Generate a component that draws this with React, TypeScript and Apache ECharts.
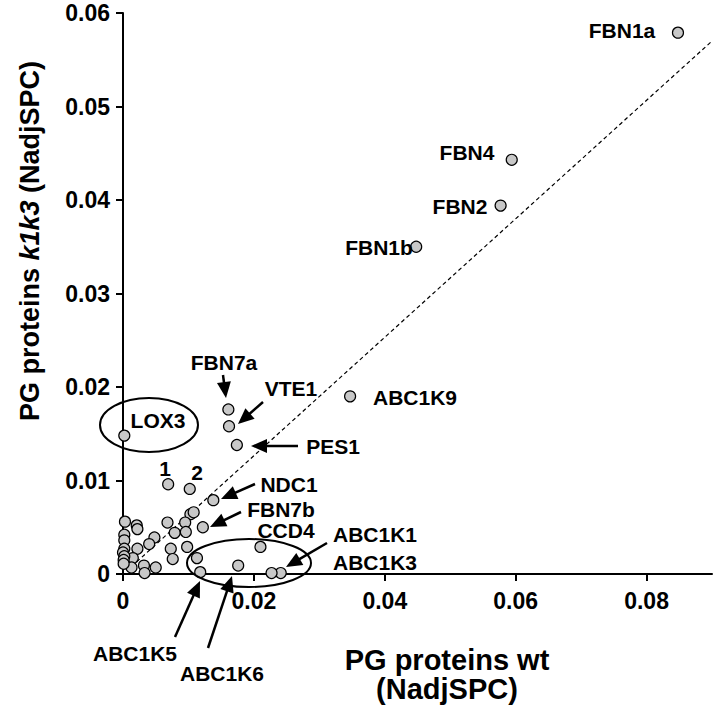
import React, { useEffect, useRef } from "react";
import * as echarts from "echarts";

// ---- data (NadjSPC) ----
const labeledNames = ["FBN1a", "FBN4", "FBN2", "FBN1b", "ABC1K9", "FBN7a", "VTE1", "PES1", "LOX3", "1", "2", "NDC1", "FBN7b", "CCD4", "ABC1K1", "ABC1K3", "ABC1K5", "ABC1K6"];
const labeledWt = [0.0848, 0.0594, 0.0577, 0.0448, 0.0347, 0.0161, 0.0162, 0.0174, 0.0002, 0.0069, 0.0102, 0.0138, 0.0122, 0.021, 0.0241, 0.0227, 0.0118, 0.0176];
const labeledK1k3 = [0.0579, 0.0443, 0.0394, 0.035, 0.019, 0.0176, 0.0158, 0.0138, 0.0148, 0.0096, 0.0091, 0.0079, 0.005, 0.0029, 0.0001, 0.0001, 0.0002, 0.0009];

const otherWt = [0.0103, 0.0108, 0.0095, 0.0068, 0.0079, 0.0096, 0.0098, 0.0073, 0.0076, 0.0113, 0.0048, 0.004, 0.0021, 0.0022, 0.0003, 0.0002, 0.0002, 0.0022, 0.0015, 0.0013, 0.0032, 0.005, 0.0033, 0.0002, 0.0, 0.0002, 0.0001, 0.0001];
const otherK1k3 = [0.0064, 0.0066, 0.0055, 0.0055, 0.0044, 0.0045, 0.0029, 0.0027, 0.0016, 0.0017, 0.0039, 0.0032, 0.0052, 0.0048, 0.0056, 0.0042, 0.0036, 0.0027, 0.0017, 0.0007, 0.0009, 0.0007, 0.0001, 0.0027, 0.0023, 0.0019, 0.0015, 0.0011];

const trendWt = [0.0013, 0.09];
const trendK1k3 = [0.0008, 0.057];

const xTicks = [0, 0.02, 0.04, 0.06, 0.08];

// ---- annotation layout (pixels) ----
const FONT = "'Liberation Sans', Arial, sans-serif";
const labelLayout: [string, number, number, string][] = [
  ["FBN1a", 622, 30, "center"],
  ["FBN4", 467, 152, "center"],
  ["FBN2", 460, 206, "center"],
  ["FBN1b", 379, 247, "center"],
  ["ABC1K9", 415, 397, "center"],
  ["FBN7a", 224, 362, "center"],
  ["VTE1", 291, 388, "center"],
  ["PES1", 333, 446, "center"],
  ["LOX3", 158, 420, "center"],
  ["1", 165, 468, "center"],
  ["2", 197, 472, "center"],
  ["NDC1", 289, 484, "center"],
  ["FBN7b", 281, 509, "center"],
  ["CCD4", 286, 530, "center"],
  ["ABC1K1", 333, 534, "left"],
  ["ABC1K3", 333, 562, "left"],
  ["ABC1K5", 135, 653, "center"],
  ["ABC1K6", 222, 673, "center"],
];
const arrowLayout: [number, number, number, number][] = [
  [223, 375, 226, 398],
  [263, 402, 238, 424],
  [298, 446, 251, 446],
  [255, 484, 221, 499],
  [241, 512, 210, 527],
  [327, 543, 286, 567],
  [175, 637, 200, 581],
  [208, 648, 232, 576],
];
const ellipseLayout: [number, number, number, number][] = [
  [149, 425, 49, 27],
  [249, 563, 62, 24],
];

function arrow(x1: number, y1: number, x2: number, y2: number) {
  const dx = x2 - x1, dy = y2 - y1;
  const len = Math.sqrt(dx * dx + dy * dy);
  const ux = dx / len, uy = dy / len;
  const L = 16, W = 7;
  const bx = x2 - ux * L, by = y2 - uy * L;
  return [
    { type: "line", shape: { x1, y1, x2: bx + ux * 2, y2: by + uy * 2 }, style: { stroke: "#000", lineWidth: 2.5 }, z: 10 },
    {
      type: "polygon",
      shape: { points: [[x2, y2], [bx - uy * W, by + ux * W], [bx + uy * W, by - ux * W]] },
      style: { fill: "#000", stroke: "none" },
      z: 10,
    },
  ];
}

export default function App() {
  const ref = useRef<HTMLDivElement>(null);
  useEffect(() => {
    document.body.style.margin = "0";
    const chart = echarts.init(ref.current!, null, { renderer: "svg" });
    const scatterData = [
      ...labeledWt.map((x, i) => ({ name: labeledNames[i], value: [x, labeledK1k3[i]] })),
      ...otherWt.map((x, i) => ({ name: "", value: [x, otherK1k3[i]] })),
    ];
    const graphic: any[] = [];
    labelLayout.forEach(([t, x, y, a]) =>
      graphic.push({
        type: "text", x, y, z: 10,
        style: { text: t, fontSize: 21, lineHeight: 20, fontWeight: "bold", fontFamily: FONT, fill: "#000", align: a, verticalAlign: "middle" },
      })
    );
    arrowLayout.forEach((a) => graphic.push(...arrow(a[0], a[1], a[2], a[3])));
    ellipseLayout.forEach(([cx, cy, rx, ry]) =>
      graphic.push({ type: "ellipse", shape: { cx, cy, rx, ry }, style: { fill: "none", stroke: "#000", lineWidth: 2 }, z: 9 })
    );
    graphic.push({
      type: "text", x: 447, y: 660,
      style: { text: "PG proteins wt", fontSize: 29, fontWeight: "bold", fontFamily: FONT, fill: "#000", align: "center", verticalAlign: "middle" },
    });
    graphic.push({
      type: "text", x: 447, y: 689,
      style: { text: "(NadjSPC)", fontSize: 29, lineHeight: 30, fontWeight: "bold", fontFamily: FONT, fill: "#000", align: "center", verticalAlign: "middle" },
    });
    graphic.push({
      type: "text", x: 30, y: 241, rotation: Math.PI / 2,
      style: {
        text: "{a|PG proteins }{b|k1k3}{a| (NadjSPC)}",
        align: "center", verticalAlign: "middle",
        rich: {
          a: { fontSize: 27, fontWeight: "bold", fontFamily: FONT, fill: "#000" },
          b: { fontSize: 27, fontWeight: "bold", fontStyle: "italic", fontFamily: FONT, fill: "#000" },
        },
      },
    });

    chart.setOption({
      animation: false,
      grid: { left: 123, right: 5, top: 13, bottom: 132, containLabel: false },
      xAxis: {
        type: "value", min: 0, max: 0.09,
        axisLine: { lineStyle: { color: "#000", width: 2 } },
        axisTick: { show: true, length: 7, lineStyle: { color: "#000", width: 2 }, customValues: xTicks },
        axisLabel: { customValues: xTicks, color: "#000", fontSize: 23, fontWeight: "bold", fontFamily: FONT, margin: 15 },
        splitLine: { show: false },
      },
      yAxis: {
        type: "value", min: 0, max: 0.06, interval: 0.01,
        axisLine: { show: true, lineStyle: { color: "#000", width: 2 } },
        axisTick: { show: true, length: 7, lineStyle: { color: "#000", width: 2 } },
        axisLabel: { color: "#000", fontSize: 23, fontWeight: "bold", fontFamily: FONT, margin: 13 },
        splitLine: { show: false },
      },
      series: [
        {
          type: "line",
          data: trendWt.map((x, i) => [x, trendK1k3[i]]),
          showSymbol: false,
          symbol: "none",
          lineStyle: { color: "#000", width: 1.2, type: [4, 3] },
          z: 1,
        },
        {
          type: "scatter",
          data: scatterData,
          symbol: "circle",
          symbolSize: 11,
          itemStyle: { color: "#c8c8c8", borderColor: "#000", borderWidth: 1.2, opacity: 1 },
          z: 3,
        },
      ],
      graphic,
    });
    return () => chart.dispose();
  }, []);
  return <div ref={ref} style={{ width: 717, height: 706 }} />;
}
